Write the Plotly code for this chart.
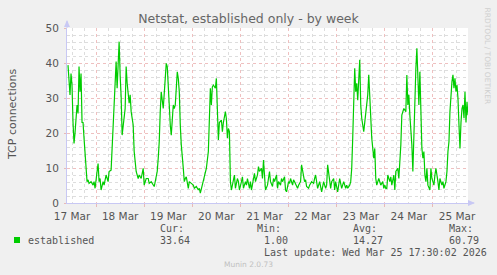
import pandas as pd
import plotly.graph_objects as go

# ---- data (hours after 2026-03-17 09:30, TCP connections) ----
start_time = "2026-03-17 09:30"
end_time = "2026-03-25 17:30"

hours_since_start = [
    0.5, 1.0, 1.5, 2.0, 2.5, 3.0, 3.5, 4.0, 5.0, 5.5, 6.0, 6.5, 7.0, 7.5, 8.0, 8.5, 9.5, 10.0, 10.5, 11.0,
    12.0, 13.0, 13.5, 14.0, 15.0, 15.5, 16.0, 16.5, 17.0, 18.0, 18.5, 19.5, 20.5, 21.0, 22.0, 23.0, 23.5,
    24.0, 24.5, 25.0, 25.5, 26.0, 26.5, 27.0, 27.5, 28.0, 29.0, 29.5, 30.0, 31.0, 31.5, 32.0, 33.0, 33.5,
    34.5, 35.5, 36.0, 37.0, 38.0, 38.5, 39.5,
    40.5, 41.0, 42.0, 43.0, 43.5, 44.0, 45.0, 45.5, 46.0, 46.5, 47.0, 48.0, 48.5, 49.0, 49.5, 50.0, 50.5,
    51.0, 51.5, 52.0, 53.0, 53.5, 54.0, 54.5, 55.0, 55.5, 56.0, 56.5, 57.0, 58.0, 58.5, 59.0, 59.5, 60.5,
    61.0, 62.0, 63.0, 63.5, 64.5, 65.5, 66.0, 66.5, 67.5, 68.0, 69.0, 69.5, 70.5, 71.0, 71.5, 72.0, 72.5,
    73.0, 74.0, 74.5, 75.0, 75.5, 76.0, 77.0, 77.5, 78.0, 79.0, 79.5,
    80.0, 80.5, 81.0, 81.5, 82.0, 83.0, 83.5, 84.0, 85.0, 85.5, 86.0, 87.0, 87.5, 88.0, 89.0, 89.5, 90.0,
    91.0, 91.5, 92.0, 93.0, 93.5, 94.0, 95.0, 95.5, 96.0, 97.0, 97.5, 98.0, 98.5, 99.0, 100.0, 100.5,
    101.0, 101.5, 102.5, 103.0, 103.5, 104.5, 105.0, 105.5, 106.5, 107.0, 107.5, 108.5, 109.0, 109.5,
    110.5, 111.0, 111.5, 112.5, 113.0, 113.5, 114.5, 115.0, 115.5, 116.5, 117.0, 117.5, 118.5, 119.0,
    119.5, 120.5, 121.0, 122.0, 123.0, 123.5, 124.0, 125.0, 125.5, 126.0, 127.0, 127.5, 128.0, 129.0,
    129.5, 130.0, 131.0, 131.5, 132.0, 133.0, 133.5, 134.0, 135.0, 135.5, 136.0, 137.0, 137.5, 138.0,
    139.0, 139.5, 140.0, 141.0, 141.5, 142.0, 142.5, 143.0, 143.5, 144.0, 144.5, 145.0, 145.5, 146.0,
    146.5, 147.0, 148.0, 148.5, 149.0, 150.0, 150.5, 151.0, 151.5, 152.0, 153.0, 153.5, 154.0, 154.5,
    155.5, 156.0, 156.5, 157.5, 158.0, 158.5, 159.0,
    159.5, 160.0, 161.0, 161.5, 162.0, 163.0, 163.5, 164.0, 165.0, 165.5, 166.0, 166.5, 167.0, 167.5,
    168.0, 169.0, 169.5, 170.0, 170.5, 171.0, 172.0, 172.5, 173.0, 173.5, 174.0, 174.5, 175.0, 175.5,
    176.0, 176.5, 177.0, 177.5, 178.0, 178.5, 179.0, 179.5, 180.0, 181.0, 181.5, 182.0, 183.0, 183.5,
    184.0, 185.0, 185.5, 186.0, 187.0, 187.5, 188.0, 189.0, 189.5, 190.0, 190.5, 191.0, 191.5, 192.0,
    192.5, 193.0, 193.5, 194.0, 194.5, 195.0, 195.5, 196.0, 196.5, 197.0, 197.5, 198.0, 198.5, 199.0,
    199.5, 200.0,
]

established = [
    39.4, 35.6, 30.9, 37.0, 33.7, 23.0, 17.0, 20.0, 28.0, 25.6, 39.0, 31.8, 37.0, 23.0, 23.0, 18.5, 10.9, 6.1, 6.6, 5.6,
    6.1, 5.1, 6.1, 4.2, 9.0, 11.3, 6.1, 7.0, 3.7, 6.1, 5.1, 8.0, 6.1, 9.0, 9.4, 22.3, 28.5,
    34.7, 40.4, 32.8, 43.2, 46.1, 36.6, 30.4, 19.4, 22.3, 27.0, 39.0, 34.2, 28.5, 30.9, 26.1, 22.3, 14.7,
    9.0, 7.0, 8.0, 7.0, 9.9, 5.1, 7.0,
    7.0, 5.6, 6.1, 5.1, 4.7, 6.1, 9.0, 12.8, 17.5, 26.1, 31.8, 27.0, 31.8, 37.5, 39.9, 39.0, 34.7,
    28.0, 22.3, 19.4, 28.0, 27.0, 28.0, 31.8, 37.5, 35.6, 31.8, 22.3, 16.6, 9.9, 6.1, 7.0, 7.5, 4.2,
    6.1, 5.6, 5.1, 4.2, 4.7, 3.7, 4.2, 2.8, 5.1, 7.0, 9.0, 9.9, 14.7, 22.3, 32.8, 28.0, 33.2,
    33.7, 32.8, 35.6, 27.0, 18.0, 23.0, 23.7, 20.4, 23.0, 26.1, 24.0,
    18.5, 21.3, 20.4, 6.1, 3.7, 7.0, 8.0, 4.2, 7.0, 6.1, 3.7, 6.1, 7.5, 4.2, 6.1, 5.1, 7.0,
    4.2, 6.1, 3.7, 7.0, 8.5, 6.1, 8.0, 10.4, 9.0, 9.9, 7.0, 12.3, 6.1, 3.7, 5.1, 7.0,
    9.0, 6.1, 4.7, 7.0, 6.1, 8.0, 4.2, 6.1, 5.1, 7.0, 6.1, 7.5, 3.7, 3.2,
    6.1, 5.6, 7.0, 5.1, 6.6, 6.1, 5.1, 4.2, 5.1, 6.1, 10.9, 9.0, 6.1, 6.6,
    4.7, 4.2, 5.1, 6.1, 5.6, 7.0, 8.0, 4.2, 5.1, 6.1, 3.2, 5.1, 6.1, 4.2,
    5.1, 10.9, 6.1, 4.2, 6.1, 7.0, 3.7, 6.1, 3.2, 5.1, 7.0, 4.2, 5.1, 6.1,
    4.2, 5.1, 4.2, 5.1, 6.1, 9.9, 18.5, 33.7, 38.5, 31.8, 34.2, 29.4, 36.6, 40.9,
    28.0, 24.2, 20.4, 23.0, 27.0, 30.9, 36.6, 29.0, 25.1, 18.5, 12.8, 15.6, 7.0, 5.1,
    7.0, 6.1, 5.1, 6.1, 4.2, 5.1, 4.2,
    4.2, 8.0, 6.1, 7.5, 5.1, 8.0, 3.7, 9.0, 9.9, 7.0, 11.8, 16.6, 25.1, 26.1,
    27.0, 26.1, 36.6, 28.0, 30.9, 25.1, 16.6, 9.0, 21.3, 33.7, 38.5, 44.2, 31.8, 28.0,
    37.5, 21.3, 15.6, 12.8, 14.7, 8.0, 6.1, 9.9, 5.1, 3.7, 9.9, 7.0, 5.1, 8.0,
    9.9, 6.1, 3.7, 7.0, 5.1, 6.1, 4.2, 6.1, 9.0, 14.7, 17.5, 26.1, 31.8, 34.7,
    36.6, 32.8, 35.6, 31.8, 33.7, 29.9, 22.3, 15.6, 23.0, 27.0, 28.0, 24.2, 31.8, 23.0,
    28.9, 25.1,
]

series_name = "established"
title_text = "Netstat, established only - by week"
y_title = "TCP connections"
stat_labels = ["Cur:", "Min:", "Avg:", "Max:"]
stat_values = ["33.64", "1.00", "14.27", "60.79"]
last_update = "Last update: Wed Mar 25 17:30:02 2026"
version_text = "Munin 2.0.73"
side_text = "RRDTOOL / TOBI OETIKER"

times = pd.Timestamp(start_time) + pd.to_timedelta(hours_since_start, unit="h")

# ---- layout constants ----
W, H = 497, 275
L, R, T, B = 67, 468, 28, 203
GREEN = "#00CC00"
AXIS = "#C8C8F4"
MAJOR = "rgba(225,140,140,0.55)"
MINOR = "rgba(180,180,180,0.45)"
TXT = "#555555"


def px(x):
    return (x - L) / (R - L)


def py(y):
    return (B - y) / (B - T)


fig = go.Figure()
fig.add_trace(go.Scatter(x=times, y=established, mode="lines",
                         line=dict(color=GREEN, width=1.2), name=series_name,
                         hoverinfo="skip"))

fig.update_layout(
    width=W, height=H,
    margin=dict(l=L, r=W - R, t=T, b=H - B, pad=0),
    paper_bgcolor="#F0F0F0", plot_bgcolor="#FFFFFF",
    showlegend=False,
    title=dict(text=title_text, x=0.5, xref="container", xanchor="center",
               y=1 - 18.5 / H, yref="container", yanchor="middle",
               font=dict(family="DejaVu Sans", size=12.5, color="#666666")),
    font=dict(family="DejaVu Sans", size=10, color=TXT),
)

fig.update_xaxes(
    type="date", range=[start_time, end_time],
    tick0="2026-03-17", dtick=86400000, tickformat="%d %b", ticklabelmode="period",
    showgrid=True, gridcolor=MAJOR, griddash="dot", gridwidth=1,
    minor=dict(dtick=6 * 3600000, tick0="2026-03-17", showgrid=True, gridcolor=MINOR,
               griddash="dot", gridwidth=1),
    showline=True, linecolor=AXIS, linewidth=1,
    ticks="outside", ticklen=3, tickcolor=MAJOR,
    tickfont=dict(family="DejaVu Sans", size=10.5, color=TXT),
    zeroline=False, fixedrange=True,
)
fig.update_yaxes(
    range=[0, 50], dtick=10, tick0=0,
    showgrid=True, gridcolor=MAJOR, griddash="dot", gridwidth=1,
    minor=dict(dtick=2, showgrid=True, gridcolor=MINOR, griddash="dot", gridwidth=1),
    showline=True, linecolor=AXIS, linewidth=1,
    ticks="outside", ticklen=2, tickcolor=MAJOR,
    tickfont=dict(family="DejaVu Sans", size=10.5, color=TXT),
    ticklabelstandoff=3,
    zeroline=False, fixedrange=True,
)

# axis extensions with arrows
fig.add_shape(type="line", xref="paper", yref="paper", x0=0, x1=0, y0=1, y1=py(21),
              line=dict(color=AXIS, width=1))
fig.add_shape(type="path", xref="paper", yref="paper",
              path=f"M {px(64)} {py(27)} L {px(70)} {py(27)} L {px(67)} {py(20)} Z",
              fillcolor=AXIS, line=dict(color=AXIS, width=0))
fig.add_shape(type="line", xref="paper", yref="paper", x0=1, x1=px(474), y0=0, y1=0,
              line=dict(color=AXIS, width=1))
fig.add_shape(type="path", xref="paper", yref="paper",
              path=f"M {px(468)} {py(200)} L {px(468)} {py(206)} L {px(475)} {py(203)} Z",
              fillcolor=AXIS, line=dict(color=AXIS, width=0))

# y axis title
fig.add_annotation(text=y_title, xref="paper", yref="paper", x=px(12), y=py(115),
                   textangle=-90, showarrow=False, xanchor="center", yanchor="middle",
                   font=dict(family="DejaVu Sans", size=11, color=TXT))

# side text
fig.add_annotation(text=side_text, xref="paper", yref="paper", x=px(487), y=py(5),
                   textangle=90, showarrow=False, xanchor="center", yanchor="top",
                   font=dict(family="DejaVu Sans", size=7.5, color="#CFCFCF"))

# legend block
MONO = dict(family="DejaVu Sans Mono", size=10, color=TXT)
fig.add_shape(type="rect", xref="paper", yref="paper", x0=px(14), x1=px(20),
              y0=py(243), y1=py(237), fillcolor=GREEN, line=dict(width=0))
fig.add_annotation(text=series_name, xref="paper", yref="paper", x=px(26), y=py(240),
                   showarrow=False, xanchor="left", yanchor="middle", font=MONO)

label_x = [158, 255, 351, 447]
value_x = [158, 261.5, 351, 447]
for lab, val, lx, vx in zip(stat_labels, stat_values, label_x, value_x):
    fig.add_annotation(text=lab, xref="paper", yref="paper", x=px(lx), y=py(228),
                       showarrow=False, xanchor="left", yanchor="middle", font=MONO)
    fig.add_annotation(text=val, xref="paper", yref="paper", x=px(vx), y=py(240),
                       showarrow=False, xanchor="left", yanchor="middle", font=MONO)

fig.add_annotation(text=last_update, xref="paper", yref="paper", x=px(261.5), y=py(252),
                   showarrow=False, xanchor="left", yanchor="middle", font=MONO)
fig.add_annotation(text=version_text, xref="paper", yref="paper", x=px(248), y=py(264),
                   showarrow=False, xanchor="center", yanchor="middle",
                   font=dict(family="DejaVu Sans", size=7.5, color="#C0C0C0"))

fig.write_html("out.html", config={"displayModeBar": False})
